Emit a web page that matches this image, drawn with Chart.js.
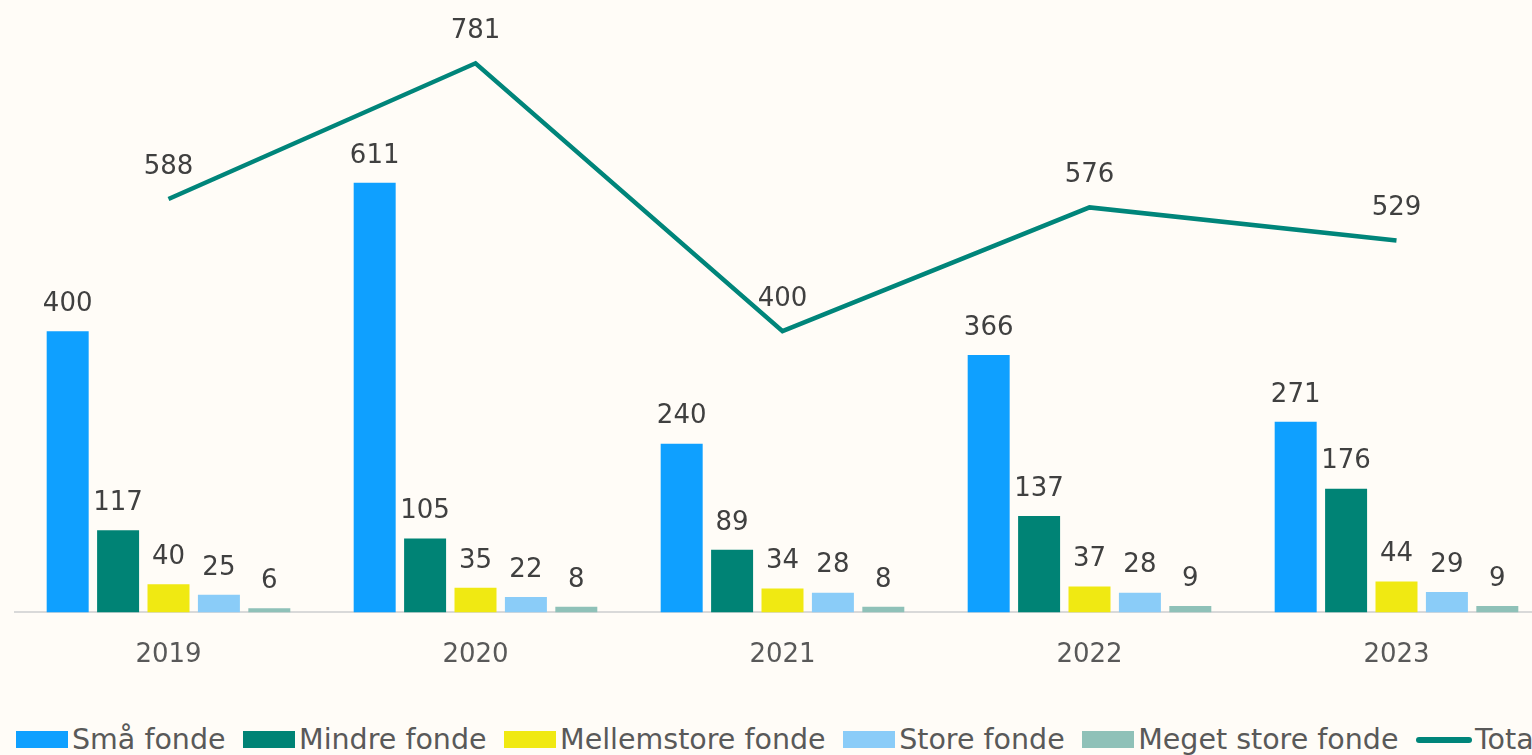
<!DOCTYPE html>
<html>
<head>
<meta charset="utf-8">
<script src="https://cdn.jsdelivr.net/npm/chart.js@4/dist/chart.umd.min.js"></script>
<style>
  html, body { margin: 0; padding: 0; background: #fffcf7; overflow: hidden; }
  #wrap { position: relative; width: 1550px; height: 690px; }
  #legend { position: absolute; left: 16px; top: 723px; display: flex; align-items: center; white-space: nowrap;
            font-family: "DejaVu Sans", sans-serif; font-size: 28.5px; color: #595959; }
  .item { display: flex; align-items: center; margin-right: 17.5px; }
  .box { width: 52px; height: 17px; margin-right: 4px; }
  .line { width: 56px; height: 6px; border-radius: 3px; margin-right: 3px; }
</style>
</head>
<body>
<div id="wrap"><canvas id="chart"></canvas></div>
<div id="legend"></div>
<script>
const years = ['2019', '2020', '2021', '2022', '2023'];
const smaa = [400, 611, 240, 366, 271];
const mindre = [117, 105, 89, 137, 176];
const mellemstore = [40, 35, 34, 37, 44];
const store = [25, 22, 28, 28, 29];
const megetStore = [6, 8, 8, 9, 9];
const total = [588, 781, 400, 576, 529];

const FONT = '"DejaVu Sans", sans-serif';

const series = [
  { label: 'Små fonde', data: smaa, color: '#0fa0ff' },
  { label: 'Mindre fonde', data: mindre, color: '#008375' },
  { label: 'Mellemstore fonde', data: mellemstore, color: '#f0e912' },
  { label: 'Store fonde', data: store, color: '#8accf8' },
  { label: 'Meget store fonde', data: megetStore, color: '#8fc1b8' }
];

const datasets = series.map(s => ({
  type: 'bar',
  label: s.label,
  data: s.data,
  backgroundColor: s.color,
  borderWidth: 0,
  categoryPercentage: 0.821,
  barPercentage: 0.833,
  order: 1
}));
datasets.push({
  type: 'line',
  label: 'Total',
  data: total,
  borderColor: '#00857a',
  borderWidth: 4.5,
  pointRadius: 0,
  tension: 0,
  fill: false,
  order: 0
});

// value labels above bars and line points
const valueLabels = {
  id: 'valueLabels',
  afterDatasetsDraw(chart) {
    const ctx = chart.ctx;
    ctx.save();
    ctx.font = '26px ' + FONT;
    ctx.fillStyle = '#404040';
    ctx.textAlign = 'center';
    ctx.textBaseline = 'middle';
    chart.data.datasets.forEach((ds, i) => {
      const meta = chart.getDatasetMeta(i);
      const off = ds.type === 'line' ? 32 : 27;
      meta.data.forEach((el, j) => {
        ctx.fillText(String(ds.data[j]), el.x, el.y - off);
      });
    });
    ctx.restore();
  }
};

const chart = new Chart(document.getElementById('chart'), {
  data: { labels: years, datasets: datasets },
  options: {
    responsive: true,
    maintainAspectRatio: false,
    animation: false,
    layout: { padding: { left: 15, right: 0, top: 0, bottom: 0 } },
    plugins: { legend: { display: false }, tooltip: { enabled: false } },
    scales: {
      x: {
        grid: { display: false },
        border: { color: '#d9d9d9', width: 2 },
        ticks: { color: '#595959', font: { family: FONT, size: 26 }, padding: 19.2 }
      },
      y: { display: false, min: 0, max: 871 }
    }
  },
  plugins: [valueLabels]
});

// legend
const legend = document.getElementById('legend');
series.forEach(s => {
  const item = document.createElement('div');
  item.className = 'item';
  item.innerHTML = '<span class="box" style="background:' + s.color + '"></span><span>' + s.label + '</span>';
  legend.appendChild(item);
});
const tot = document.createElement('div');
tot.className = 'item';
tot.innerHTML = '<span class="line" style="background:#00857a"></span><span>Total</span>';
legend.appendChild(tot);
</script>
</body>
</html>
